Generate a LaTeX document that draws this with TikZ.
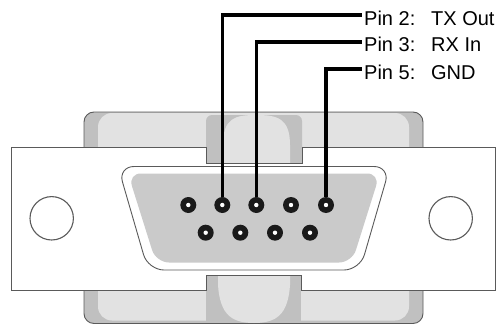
\documentclass[tikz,border=0pt]{standalone}
\usepackage{fontspec}
\setmainfont{Liberation Sans}
\definecolor{shelldark}{HTML}{C0C0C0}
\definecolor{shelllight}{HTML}{E2E2E2}
\definecolor{dgray}{HTML}{CACACA}
\definecolor{edge}{HTML}{5A5A5A}
\definecolor{pindark}{HTML}{1A1A1A}
\begin{document}
\begin{tikzpicture}[x=1pt,y=-1pt]
\tikzset{
  wire/.style={line width=3.5pt, black},
  dsubpin/.style={circle, fill=pindark, minimum size=16pt, inner sep=0pt,
    path picture={\fill[white] (path picture bounding box.center) circle (2.2pt);}},
  lbl/.style={anchor=base west, inner xsep=2pt, inner ysep=0pt, text height=20pt, text depth=0pt,
    font=\fontsize{20}{24}\selectfont},
  hole/.style={draw=edge, line width=1.1pt, fill=white},
  outline/.style={draw=edge, line width=0.9pt},
}
\useasboundingbox (0,0) rectangle (496,324);
% back shell
\filldraw[fill=shelldark, outline, rounded corners=10pt] (84,112) rectangle (423,323.5);
\fill[shelllight, rounded corners=14pt] (98,113) rectangle (409,320.5);
% top tab
\fill[shelldark, rounded corners=6pt] (206,115) rectangle (302,170);
\fill[shelllight] (223,163) -- (223,145) .. controls (223,118) and (235,115) .. (256,115)
   .. controls (277,115) and (290,118) .. (290,145) -- (290,163) -- cycle;
% bottom tab
\fill[shelldark] (206,270) rectangle (301,322);
\fill[shelllight] (218,275) -- (218,285) .. controls (220,315) and (232,323) .. (254,323)
   .. controls (276,323) and (288,315) .. (290,285) -- (290,275) -- cycle;
% front plate
\filldraw[fill=white, outline] (11.5,147.5) -- (206,147.5) -- (206,163) -- (302,163) -- (302,147.5)
  -- (495,147.5) -- (495,290) -- (301,290) -- (301,275) -- (206,275) -- (206,290) -- (11.5,290) -- cycle;
% mounting holes
\draw[hole] (51.7,218.3) circle (21.7pt);
\draw[hole] (450.7,218.3) circle (21.7pt);
% D shell
\filldraw[fill=white, outline, rounded corners=16pt] (254,166.5) -- (390,166.5) -- (360,270) -- (148,270) -- (118,166.5) -- cycle;
\fill[dgray, rounded corners=13pt] (254,173.5) -- (380,173.5) -- (352,262.5) -- (156,262.5) -- (128,173.5) -- cycle;
% pins
\node[dsubpin] (p1) at (188.3,205) {};
\node[dsubpin] (p2) at (222.3,205) {};
\node[dsubpin] (p3) at (256.3,205) {};
\node[dsubpin] (p4) at (291,205) {};
\node[dsubpin] (p5) at (326,205) {};
\node[dsubpin] (p6) at (205.7,232.7) {};
\node[dsubpin] (p7) at (240.3,232.7) {};
\node[dsubpin] (p8) at (275,232.7) {};
\node[dsubpin] (p9) at (310,232.7) {};
% labels
\node[lbl] (l2) at (362,25) {\makebox[67pt][l]{Pin 2:}TX Out};
\node[lbl] (l3) at (362,52) {\makebox[67pt][l]{Pin 3:}RX In};
\node[lbl] (l5) at (362,79) {\makebox[67pt][l]{Pin 5:}GND};
% wires
\draw[wire] (p2) |- (l2.west);
\draw[wire] (p3) |- (l3.west);
\draw[wire] (p5) |- (l5.west);
\end{tikzpicture}
\end{document}
